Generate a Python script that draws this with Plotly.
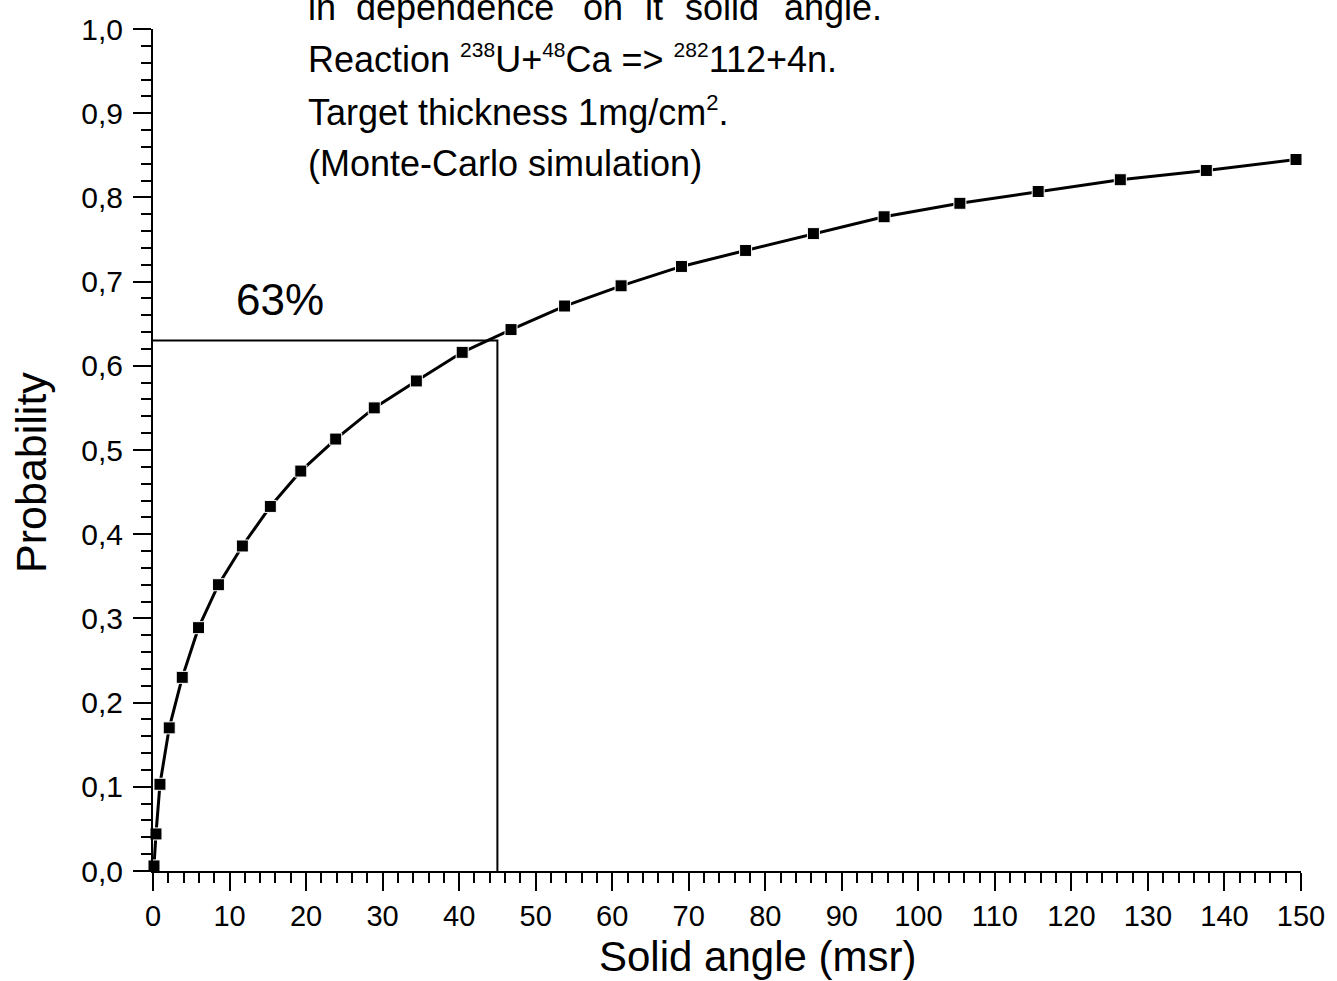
import plotly.graph_objects as go

# ---- data ----
solid_angle = [0.13, 0.39, 0.91, 2.12, 3.82, 5.95, 8.55, 11.68, 15.33, 19.31, 23.87,
               28.91, 34.41, 40.40, 46.78, 53.78, 61.16, 69.05, 77.43, 86.29, 95.53,
               105.43, 115.66, 126.39, 137.63, 149.35]
probability = [0.006, 0.044, 0.103, 0.170, 0.230, 0.289, 0.340, 0.386, 0.433, 0.475, 0.513,
               0.550, 0.582, 0.616, 0.643, 0.671, 0.695, 0.718, 0.737, 0.757, 0.777,
               0.793, 0.807, 0.821, 0.832, 0.845]

ref_x = [0, 45, 45]
ref_y = [0.63, 0.63, 0.0]

x_ticks = list(range(0, 151, 10))
y_ticks = [round(i * 0.1, 1) for i in range(11)]

title_words = ["in", "dependence", "on", "it", "solid", "angle."]
title_lines = [
    "Reaction <sup><span style='font-size:21px'>238</span></sup>U+<sup><span style='font-size:21px'>48</span></sup>Ca =&gt; <sup><span style='font-size:21px'>282</span></sup>112+4n.",
    "Target thickness 1mg/cm<sup><span style='font-size:22px'>2</span></sup>.",
    "(Monte-Carlo simulation)",
]
label_63 = "63%"
x_title = "Solid angle (msr)"
y_title = "Probability"

# ---- layout helpers (pixel -> paper) ----
L, R, T, B = 153, 32, 28, 110
W, H = 1337, 981
PW, PH = W - L - R, H - T - B


def px(xp):
    return (xp - L) / PW


def py(yp):
    return (H - B - yp) / PH


FONT = "Liberation Sans, Arial, sans-serif"

fig = go.Figure()

fig.add_trace(go.Scatter(x=ref_x, y=ref_y, mode="lines",
                         line=dict(color="black", width=2), hoverinfo="skip",
                         showlegend=False, cliponaxis=False))

fig.add_trace(go.Scatter(x=solid_angle, y=probability, mode="lines+markers",
                         line=dict(color="black", width=3),
                         marker=dict(symbol="square", size=12, color="black",
                                     line=dict(color="white", width=1)),
                         showlegend=False, cliponaxis=False))

annotations = []
word_px = [308, 356, 583, 646, 686, 785]
for w, xp in zip(title_words, word_px):
    annotations.append(dict(text=w, x=px(xp), y=py(28.3), xref="paper", yref="paper",
                            xanchor="left", yanchor="bottom", showarrow=False,
                            borderpad=0, font=dict(family=FONT, size=36, color="black")))

line_bottoms = [80.3, 133.6, 184.3]
for t, yb in zip(title_lines, line_bottoms):
    annotations.append(dict(text=t, x=px(308), y=py(yb), xref="paper", yref="paper",
                            xanchor="left", yanchor="bottom", showarrow=False,
                            borderpad=0, font=dict(family=FONT, size=36, color="black")))

annotations.append(dict(text=label_63, x=px(235), y=py(324.3), xref="paper", yref="paper",
                        xanchor="left", yanchor="bottom", showarrow=False, borderpad=0,
                        font=dict(family=FONT, size=44, color="black")))

annotations.append(dict(text=x_title, x=px(759.5), y=py(980.9), xref="paper", yref="paper",
                        xanchor="center", yanchor="bottom", showarrow=False, borderpad=0,
                        font=dict(family=FONT, size=42, color="black")))

annotations.append(dict(text=y_title, x=px(31), y=py(472), xref="paper", yref="paper",
                        xanchor="center", yanchor="middle", showarrow=False, borderpad=0,
                        textangle=-90, font=dict(family=FONT, size=43, color="black")))

fig.update_layout(
    width=W, height=H,
    margin=dict(l=L, r=R, t=T, b=B, pad=0),
    paper_bgcolor="white", plot_bgcolor="white",
    separators=",.",
    annotations=annotations,
    font=dict(family=FONT, color="black"),
)

fig.update_xaxes(range=[0, 150], tickmode="array", tickvals=x_ticks,
                 ticks="outside", ticklen=18, tickwidth=2, tickcolor="black",
                 minor=dict(dtick=2, tick0=0, ticks="outside", ticklen=10,
                            tickwidth=2, tickcolor="black", showgrid=False),
                 showline=True, linewidth=2, linecolor="black",
                 showgrid=False, zeroline=False,
                 tickfont=dict(family=FONT, size=29, color="black"))

fig.update_yaxes(range=[0, 1.0], tickmode="array", tickvals=y_ticks,
                 tickformat=".1f",
                 ticks="outside", ticklen=18, tickwidth=2, tickcolor="black",
                 ticklabelstandoff=4,
                 minor=dict(dtick=0.02, tick0=0, ticks="outside", ticklen=10,
                            tickwidth=2, tickcolor="black", showgrid=False),
                 showline=True, linewidth=2, linecolor="black",
                 showgrid=False, zeroline=False,
                 tickfont=dict(family=FONT, size=30, color="black"))

fig.write_html("out.html",
               config={"displayModeBar": False},
               post_script="document.body.style.margin='0';document.body.style.overflow='hidden';")
